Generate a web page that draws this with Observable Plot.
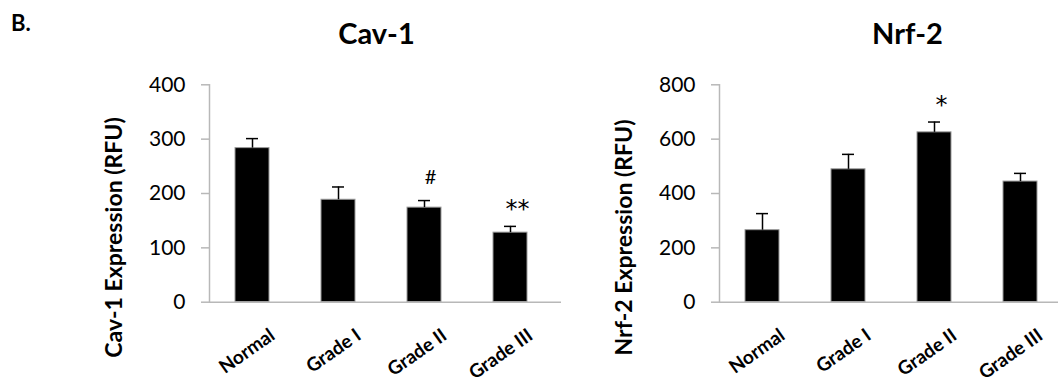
<!DOCTYPE html>
<html>
<head>
<meta charset="utf-8">
<script src="https://cdn.jsdelivr.net/npm/d3@7"></script>
<script src="https://cdn.jsdelivr.net/npm/@observablehq/plot@0.6"></script>
<style>
  html, body { margin: 0; padding: 0; background: #fff; overflow: hidden; }
  #wrap { position: relative; width: 1058px; height: 385px; font-family: Lato, sans-serif; }
  #panelB { position: absolute; left: 11px; top: 12px; font-family: Lato, sans-serif; font-weight: bold; font-size: 22px; line-height: 1; color: #000; }
  .panel { position: absolute; top: 0; }
  .panel svg { overflow: visible; background: transparent; }
</style>
</head>
<body>
<div id="wrap">
  <div id="left" class="panel" style="left:0px"></div>
  <div id="right" class="panel" style="left:580px"></div>
  <div id="panelB">B.</div>
</div>
<script>
// ---- data ----
const categories = ["Normal", "Grade I", "Grade II", "Grade III"];
const cavValues = [283.5, 188.5, 174, 128];
const cavErrors = [17.5, 23.5, 13, 11.5];
const cavMarks = ["", "", "#", "**"];
const cavTicks = [0, 100, 200, 300, 400];
const nrfValues = [265, 489, 625, 444];
const nrfErrors = [61, 55, 38, 30];
const nrfMarks = ["", "", "*", ""];
const nrfTicks = [0, 200, 400, 600, 800];

const AXIS_GRAY = "#b8b8b8";

function panel({title, yLabel, values, errors, marks, ticks, width, marginLeft, marginRight, xRange, titleDx}) {
  const rows = categories.map((c, i) => ({cat: c, v: values[i], hi: values[i] + errors[i], mark: marks[i]}));
  return Plot.plot({
    width, height: 385,
    marginLeft, marginRight, marginTop: 84.3, marginBottom: 83.3,
    style: {fontFamily: "Lato, sans-serif", background: "transparent", overflow: "visible"},
    x: {domain: categories, range: xRange, paddingInner: 0.6047, paddingOuter: 0.3023, align: 0.5},
    y: {domain: [ticks[0], ticks[ticks.length - 1]]},
    marks: [
      Plot.frame({anchor: "left", stroke: AXIS_GRAY, strokeWidth: 1.5}),
      Plot.axisY({ticks, tickSize: 8, text: null, stroke: AXIS_GRAY, strokeWidth: 1.5, label: null}),
      Plot.axisY({ticks, tickSize: 0, tickPadding: 24, fontSize: 21, fill: "#000", label: null}),
      Plot.axisX({ticks: [], label: null}),
      Plot.barY(rows, {x: "cat", y: "v", fill: "#000", stroke: "#9a9a9a", strokeWidth: 1}),
      Plot.ruleX(rows, {x: "cat", y1: "v", y2: "hi", stroke: "#000", strokeWidth: 1.5}),
      Plot.tickY(rows, {x: "cat", y: "hi", stroke: "#000", strokeWidth: 1.5, insetLeft: 11, insetRight: 11}),
      Plot.ruleY([0], {stroke: AXIS_GRAY, strokeWidth: 1.5}),
      Plot.text(rows.filter(d => d.mark === "#"), {x: "cat", y: "hi", text: "mark", dx: 6, dy: -23, fontSize: 20, fill: "#000"}),
      Plot.text(rows.filter(d => d.mark.includes("*")), {x: "cat", y: "hi", text: "mark", dx: 7, dy: -17, fontSize: 24, fontFamily: "DejaVu Sans", fill: "#000"}),
      Plot.text(categories, {x: d => d, frameAnchor: "bottom", rotate: -35, textAnchor: "end", lineAnchor: "top", dx: 16, dy: 25, fontSize: 19, fontWeight: "bold", fill: "#000"}),
      Plot.text([yLabel], {frameAnchor: "left", textAnchor: "middle", rotate: -90, dx: -95, dy: 44, fontSize: 23, fontWeight: "bold", fill: "#000"}),
      Plot.text([title], {frameAnchor: "top", lineAnchor: "bottom", dx: titleDx, dy: -41.3, fontSize: 29, fontWeight: "bold", fill: "#000"})
    ]
  });
}

document.getElementById("left").append(panel({
  title: "Cav-1", yLabel: "Cav-1 Expression (RFU)",
  values: cavValues, errors: cavErrors, marks: cavMarks, ticks: cavTicks,
  width: 580, marginLeft: 209, marginRight: 19, xRange: [209, 553], titleDx: -9
}));
document.getElementById("right").append(panel({
  title: "Nrf-2", yLabel: "Nrf-2 Expression (RFU)",
  values: nrfValues, errors: nrfErrors, marks: nrfMarks, ticks: nrfTicks,
  width: 478, marginLeft: 139, marginRight: 0, xRange: [139, 483], titleDx: 18.5
}));
</script>
</body>
</html>
